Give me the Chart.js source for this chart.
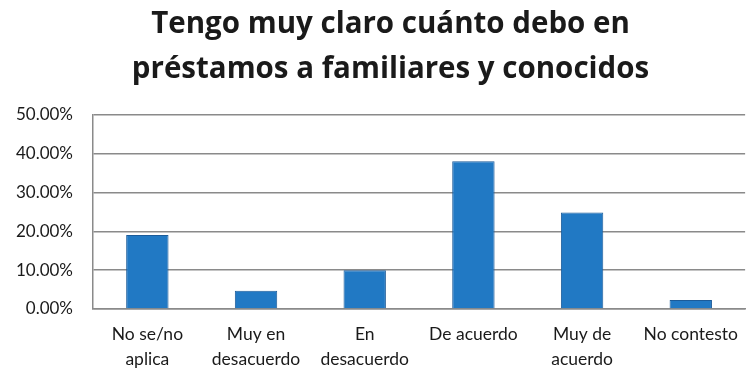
<!DOCTYPE html>
<html>
<head>
<meta charset="utf-8">
<script src="https://cdn.jsdelivr.net/npm/chart.js@4/dist/chart.umd.min.js"></script>
<style>
  html, body { margin: 0; padding: 0; background: #fff; }
  #chart { display: block; }
</style>
</head>
<body>
<canvas id="chart" width="751" height="369"></canvas>
<script>
// Survey answers and share of respondents (%)
const categories = [
    ['No se/no', 'aplica'],
    ['Muy en', 'desacuerdo'],
    ['En', 'desacuerdo'],
    'De acuerdo',
    ['Muy de', 'acuerdo'],
    'No contesto'
];
const shares = [19.1, 4.7, 10.0, 38.1, 24.9, 2.3];
const titleLines = ['Tengo muy claro cuánto debo en', 'préstamos a familiares y conocidos'];
const yMax = 50;
const yStep = 10;

const gridGray = '#8a8a8a';
const textColor = '#1a1a1a';

// Two-line heading, centred a little right of the canvas middle
const headingPlugin = {
    id: 'heading',
    afterDraw(chart) {
        const ctx = chart.ctx;
        ctx.save();
        ctx.fillStyle = textColor;
        ctx.font = 'bold 29.5px "Open Sans"';
        ctx.textAlign = 'center';
        ctx.textBaseline = 'alphabetic';
        const cx = (30 + chart.width) / 2;
        titleLines.forEach((line, i) => ctx.fillText(line, cx, 33 + i * 45));
        ctx.restore();
    }
};

new Chart(document.getElementById('chart'), {
    type: 'bar',
    data: {
        labels: categories,
        datasets: [{
            data: shares,
            backgroundColor: '#2179c4',
            borderColor: '#1b5b99',
            borderWidth: 1,
            barPercentage: 0.39,
            categoryPercentage: 1
        }]
    },
    plugins: [headingPlugin],
    options: {
        responsive: false,
        animation: false,
        layout: { padding: { left: 0, right: 0, top: 115, bottom: 0 } },
        plugins: {
            legend: { display: false },
            tooltip: { enabled: false },
            title: { display: false }
        },
        scales: {
            x: {
                grid: { display: false, drawTicks: false },
                border: { display: true, color: gridGray, width: 1.5 },
                ticks: {
                    color: textColor,
                    font: { family: 'Lato', size: 17.5, lineHeight: 1.42 },
                    padding: 13,
                    maxRotation: 0,
                    autoSkip: false
                },
                afterFit: (scale) => { scale.height = 60; }
            },
            y: {
                min: 0,
                max: yMax,
                grid: { color: gridGray, lineWidth: 1.5, drawTicks: false },
                border: { display: true, color: gridGray, width: 1.5 },
                ticks: {
                    stepSize: yStep,
                    color: textColor,
                    font: { family: 'Lato', size: 17 },
                    padding: 20,
                    callback: (v) => Number(v).toFixed(2) + '%'
                },
                afterFit: (scale) => { scale.width = 93; }
            }
        }
    }
});
</script>
</body>
</html>
